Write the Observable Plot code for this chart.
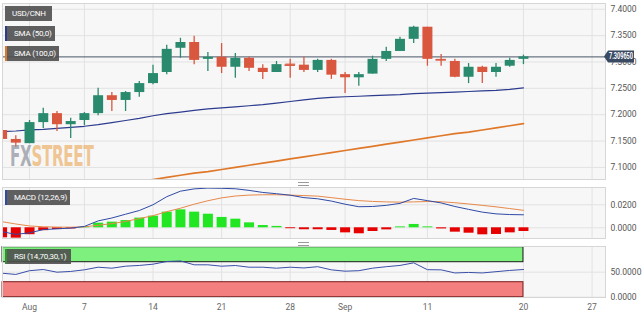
<!DOCTYPE html>
<html><head><meta charset="utf-8">
<script src="https://cdn.jsdelivr.net/npm/d3@7"></script>
<script src="https://cdn.jsdelivr.net/npm/@observablehq/plot@0.6"></script>
<style>
body{margin:0;background:#fff;}
#chart{position:relative;width:644px;height:314px;overflow:hidden;font-family:Roboto,"Liberation Sans",sans-serif;background:#fff;}
#chart svg{position:absolute;left:0;}
.tag{position:absolute;left:5px;height:15px;line-height:15px;background:rgba(78,78,78,0.9);color:#fff;font-size:8px;letter-spacing:-0.2px;padding-left:7px;box-sizing:border-box;white-space:nowrap;}
.handle{position:absolute;left:298px;width:11px;height:2px;border-top:1px solid #9a9a9a;border-bottom:1px solid #9a9a9a;}
.wm{position:absolute;left:10px;top:140px;font-family:"Liberation Sans Narrow","DejaVu Sans Condensed",sans-serif;font-size:28px;font-weight:bold;transform:scaleX(0.6);transform-origin:left top;letter-spacing:-0.5px;opacity:0.7;}
</style></head>
<body><div id="chart"></div>
<script>
// ---- data (trading days) ----
const dates = ["2023-07-28","2023-07-31","2023-08-01","2023-08-02","2023-08-03","2023-08-04","2023-08-07","2023-08-08","2023-08-09","2023-08-10","2023-08-11","2023-08-14","2023-08-15","2023-08-16","2023-08-17","2023-08-18","2023-08-21","2023-08-22","2023-08-23","2023-08-24","2023-08-25","2023-08-28","2023-08-29","2023-08-30","2023-08-31","2023-09-01","2023-09-04","2023-09-05","2023-09-06","2023-09-07","2023-09-08","2023-09-11","2023-09-12","2023-09-13","2023-09-14","2023-09-15","2023-09-18","2023-09-19","2023-09-20"];
const open  = [7.170,7.153,7.145,7.185,7.202,7.181,7.189,7.202,7.236,7.227,7.242,7.259,7.280,7.326,7.337,7.305,7.309,7.290,7.307,7.288,7.280,7.296,7.294,7.284,7.303,7.276,7.270,7.277,7.305,7.320,7.343,7.366,7.305,7.301,7.271,7.290,7.280,7.292,7.305];
const high  = [7.176,7.160,7.189,7.212,7.206,7.193,7.204,7.250,7.242,7.244,7.263,7.294,7.332,7.345,7.349,7.318,7.335,7.316,7.309,7.295,7.301,7.305,7.309,7.305,7.305,7.280,7.280,7.311,7.328,7.347,7.368,7.366,7.314,7.305,7.297,7.292,7.297,7.307,7.313];
const low   = [7.141,7.138,7.145,7.174,7.168,7.155,7.179,7.198,7.206,7.206,7.233,7.257,7.276,7.307,7.295,7.282,7.278,7.269,7.282,7.267,7.280,7.269,7.280,7.280,7.267,7.240,7.254,7.277,7.301,7.320,7.335,7.292,7.292,7.270,7.259,7.259,7.271,7.290,7.295];
const close = [7.153,7.146,7.185,7.202,7.181,7.187,7.202,7.236,7.227,7.242,7.259,7.278,7.324,7.337,7.303,7.309,7.290,7.307,7.288,7.280,7.295,7.294,7.284,7.303,7.275,7.270,7.276,7.305,7.320,7.343,7.366,7.305,7.304,7.271,7.290,7.280,7.290,7.303,7.30965];
const sma50 = [7.168,7.169,7.171,7.172,7.174,7.176,7.178,7.181,7.185,7.189,7.193,7.198,7.202,7.205,7.208,7.211,7.213,7.215,7.217,7.219,7.222,7.225,7.228,7.231,7.233,7.234,7.235,7.236,7.237,7.238,7.240,7.241,7.242,7.243,7.244,7.245,7.246,7.248,7.251];
const sma100 = [null,null,null,null,null,null,null,null,null,null,7.073,7.077,7.081,7.085,7.089,7.092,7.096,7.100,7.104,7.108,7.112,7.116,7.120,7.124,7.128,7.132,7.136,7.140,7.144,7.148,7.152,7.156,7.160,7.164,7.167,7.171,7.175,7.179,7.183];
const macd   = [-0.0034,-0.0057,-0.0044,-0.0016,-0.0009,-0.0003,0.0012,0.0060,0.0085,0.0118,0.0150,0.0200,0.0270,0.0318,0.0338,0.0345,0.0343,0.0339,0.0325,0.0307,0.0296,0.0283,0.0262,0.0252,0.0232,0.0205,0.0183,0.0185,0.0195,0.0212,0.0255,0.0236,0.0216,0.0185,0.0160,0.0136,0.0121,0.0115,0.0113];
const signal = [0.0053,0.0033,0.0016,0.0009,0.0006,0.0005,0.0008,0.0022,0.0036,0.0055,0.0080,0.0105,0.0140,0.0170,0.0205,0.0235,0.0260,0.0276,0.0284,0.0287,0.0287,0.0284,0.0280,0.0275,0.0262,0.0248,0.0236,0.0229,0.0225,0.0223,0.0225,0.0228,0.0226,0.0218,0.0207,0.0195,0.0182,0.0167,0.0152];
const hist   = [-0.0087,-0.0090,-0.0060,-0.0025,-0.0015,-0.0010,0.0006,0.0040,0.0049,0.0063,0.0084,0.0101,0.0136,0.0156,0.0136,0.0118,0.0090,0.0075,0.0043,0.0020,0.0012,-0.0008,-0.0017,-0.0017,-0.0023,-0.0044,-0.0052,-0.0032,-0.0018,0.0008,0.0029,0.0008,-0.0010,-0.0038,-0.0047,-0.0061,-0.0058,-0.0044,-0.0032];
const rsi    = [48,45.5,53,55.4,50,51.5,54.8,60,58,62,63.5,66,71.4,72.5,64.8,64.8,62,63.4,60,60,58,60,58.5,61,54.7,52,53,58,61,63.5,68.7,55,54.7,48.5,49.5,48.5,51,53.5,55.4];
const rsiUpper = 70, rsiLower = 30;

const axisDates  = ["2023-08-01","2023-08-07","2023-08-14","2023-08-21","2023-08-28","2023-09-01","2023-09-11","2023-09-20","2023-09-27"];
const axisLabels = ["Aug","7","14","21","28","Sep","11","20","27"];
const priceTicks = [7.10,7.15,7.20,7.25,7.30,7.35,7.40];
const macdTicks = [0,0.02];
const rsiTicks = [0,50];

// trading-day index (weekdays) relative to Aug 1
function tdIndex(s){
  const base = Date.UTC(2023,7,1), t = Date.parse(s+"T00:00:00Z");
  let n=0, cur=base; const step = t>=base?1:-1;
  while(cur!==t){ cur += step*86400000; const w=new Date(cur).getUTCDay(); if(w!==0&&w!==6) n+=step; }
  return n;
}
const rows = dates.map((d,k)=>({i:tdIndex(d),open:open[k],high:high[k],low:low[k],close:close[k],sma50:sma50[k],sma100:sma100[k],macd:macd[k],signal:signal[k],hist:hist[k],rsi:rsi[k]}));
const tickIdx = axisDates.map(tdIndex);
const labelOf = new Map(tickIdx.map((t,k)=>[t,axisLabels[k]]));
const last = rows[rows.length-1];

const GREEN="#2a8a6e", RED="#d9573f";
const xDomain=[-1.97,41.98];
const base = {width:644, marginLeft:2, marginRight:39, style:{fontFamily:"Roboto, sans-serif",fontSize:"8.5px",color:"#555",background:"transparent",overflow:"visible"}};
const grid = (yt)=>[Plot.frame({fill:"#f7f7f7",stroke:null}), Plot.gridY(yt,{stroke:"#e2e2e2",strokeOpacity:1}), Plot.gridX(tickIdx,{stroke:"#e2e2e2",strokeOpacity:1})];
const dir = d => d.close>=d.open?"up":"down";

const p1 = Plot.plot({...base, height:180, marginTop:3, marginBottom:1,
  x:{domain:xDomain, axis:null},
  y:{domain:[7.077,7.411], axis:"right", ticks:priceTicks, tickFormat:d=>d.toFixed(4), tickSize:0, tickPadding:5, label:null},
  color:{domain:["up","down"], range:[GREEN,RED]},
  marks:[
    ...grid(priceTicks),
    Plot.line(rows,{x:"i",y:"sma50",stroke:"#2c3b8e",strokeWidth:1.2,clip:true}),
    Plot.line(rows,{x:"i",y:"sma100",stroke:"#e0782a",strokeWidth:1.7,clip:true}),
    Plot.ruleY([last.close],{stroke:"#475569",strokeWidth:1}),
    Plot.ruleX(rows,{x:"i",y1:"low",y2:"high",stroke:dir,strokeWidth:1.3,clip:true}),
    Plot.ruleX(rows,{x:"i",y1:"open",y2:"close",stroke:dir,strokeWidth:10,clip:true}),
    Plot.ruleY(rows.filter(d=>Math.abs(d.close-d.open)<0.004),{y:"close",x1:d=>d.i-0.38,x2:d=>d.i+0.38,stroke:dir,strokeWidth:1.6,clip:true}),
    Plot.frame({stroke:"#d6d6d6"})
  ]});

const p2 = Plot.plot({...base, height:56, marginTop:3, marginBottom:2,
  x:{domain:xDomain, axis:null},
  y:{domain:[-0.0093,0.0350], axis:"right", ticks:macdTicks, tickFormat:d=>d.toFixed(4), tickSize:0, tickPadding:5, label:null},
  color:{domain:["pos","neg"], range:["#22e622","#e60000"]},
  marks:[
    ...grid(macdTicks),
    Plot.ruleX(rows,{x:"i",y1:0,y2:"hist",stroke:d=>d.hist>=0?"pos":"neg",strokeWidth:10,clip:true}),
    Plot.line(rows,{x:"i",y:"signal",stroke:"#e8894a",strokeWidth:1,clip:true}),
    Plot.line(rows,{x:"i",y:"macd",stroke:"#2f4aa6",strokeWidth:1,clip:true}),
    Plot.frame({stroke:"#d6d6d6"})
  ]});

const bands = [{lo:rsiUpper,hi:100,fill:"#7ef07e",stroke:"#1b1b1b"},{lo:0,hi:rsiLower,fill:"#f47f7f",stroke:"#7a1f1f"}];
const p3 = Plot.plot({...base, height:71, marginTop:3, marginBottom:17,
  x:{domain:xDomain, axis:null},
  y:{domain:[-0.6,101.4], axis:"right", ticks:rsiTicks, tickFormat:d=>d.toFixed(4), tickSize:0, tickPadding:5, label:null},
  marks:[
    ...grid(rsiTicks),
    Plot.rect(bands,{x1:xDomain[0],x2:last.i,y1:"lo",y2:"hi",fill:"fill",stroke:"stroke",strokeWidth:1}),
    Plot.line(rows,{x:"i",y:"rsi",stroke:"#3a4fa8",strokeWidth:1,clip:true}),
    Plot.axisX(tickIdx,{anchor:"bottom",tickSize:0,tickPadding:6,tickFormat:d=>labelOf.get(d),fill:"#666",label:null}),
    Plot.frame({stroke:"#d6d6d6"})
  ]});

const chart = document.getElementById("chart");
[[p1,0],[p2,184],[p3,243]].forEach(([p,t])=>{p.style.position="absolute";p.style.top=t+"px";p.style.left="0px";chart.appendChild(p);});

// last price tag on the right axis, positioned through the y scale
const yv = p1.scale("y").apply(last.close);
const g = d3.select(p1).append("g");
g.append("path").attr("d",`M604,${yv}L608,${yv-6}H634V${yv+6}H608Z`).attr("fill","#3b4a63");
g.append("text").attr("x",609).attr("y",yv).attr("dy","0.35em").attr("text-anchor","start")
  .attr("textLength",24).attr("lengthAdjust","spacingAndGlyphs")
  .attr("fill","#fff").attr("font-size","8.5px").attr("font-weight","bold").attr("font-family","Roboto, sans-serif").text(last.close.toFixed(6));

// overlay tags and decorations
function tag(text, top, width, stripe){
  const d=document.createElement("div"); d.className="tag"; d.textContent=text;
  d.style.top=top+"px"; d.style.width=width+"px";
  if(stripe) d.style.borderLeft="2px solid "+stripe;
  chart.appendChild(d);
}
const wm=document.createElement("div"); wm.className="wm";
wm.innerHTML='<span style="color:#8d929c">FX</span><span style="color:#ebb06a">STREET</span>';
chart.insertBefore(wm, p2);
tag("USD/CNH",6,47,null);
tag("SMA (50,0)",26,50,"#2c3b8e");
tag("SMA (100,0)",46,54,"#e0782a");
tag("MACD (12,26,9)",190,65,"#2f4aa6");
tag("RSI (14,70,30,1)",249,66,"#3a8a3a");
[182,242].forEach(t=>{const h=document.createElement("div");h.className="handle";h.style.top=t+"px";chart.appendChild(h);});
</script></body></html>
